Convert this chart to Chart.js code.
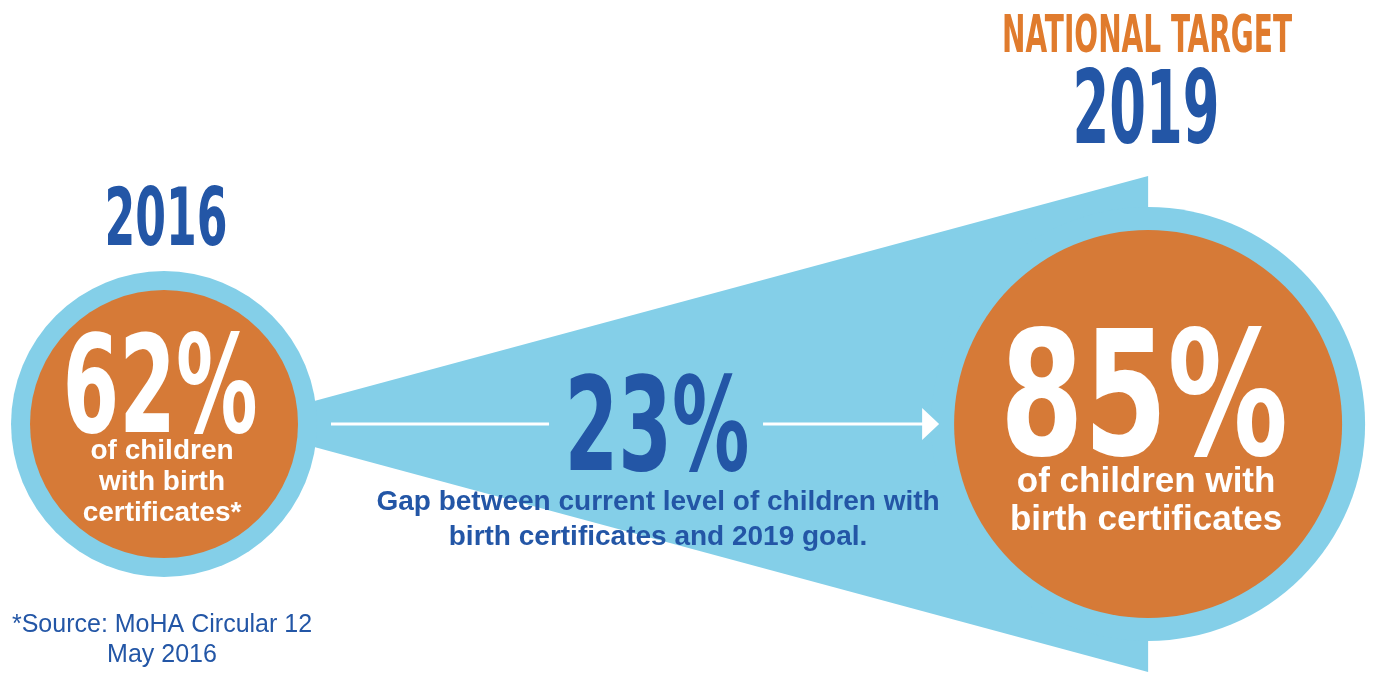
<!DOCTYPE html>
<html>
<head>
<meta charset="utf-8">
<title>Children with birth certificates: 2016 vs 2019 target</title>
<script src="https://cdn.jsdelivr.net/npm/chart.js@4.4.1/dist/chart.umd.min.js"></script>
<style>
    html, body { margin: 0; padding: 0; background: #ffffff; }
    #wrap { position: relative; width: 1381px; height: 675px; }
</style>
</head>
<body>
<div id="wrap"><canvas id="gapChart"></canvas></div>
<script>
// Data
const years = [2016, 2019];
const headings = [['2016'], ['NATIONAL TARGET', '2019']];
const shares = [62, 85]; // % of children with birth certificates
const shareCaptions = [
    ['of children', 'with birth', 'certificates*'],
    ['of children with', 'birth certificates']
];
const gapCaption = ['Gap between current level of children with', 'birth certificates and 2019 goal.'];
const sourceNote = ['*Source: MoHA Circular 12', 'May 2016'];

// Colours
const skyBlue = '#84cfe8';
const orange = '#d67a37';
const navy = '#2356a6';
const titleOrange = '#e07b2d';

// Circle sizes (px)
const discRadius = [134, 194];
const ringWidth = [19, 23];

const displayFont = '"Liberation Sans Narrow", "DejaVu Sans Condensed", "Liberation Sans", sans-serif';
const bodyFont = '"Liberation Sans", Arial, sans-serif';

// Poster style text: sized by cap height, squeezed to a width
function fitText(ctx, text, cx, baseline, capHeight, width, color) {
    ctx.save();
    ctx.font = 'bold 100px ' + displayFont;
    const m = ctx.measureText(text);
    const size = 100 * capHeight / m.actualBoundingBoxAscent;
    ctx.font = 'bold ' + size + 'px ' + displayFont;
    const w = ctx.measureText(text).width;
    ctx.fillStyle = color;
    ctx.textAlign = 'left';
    ctx.textBaseline = 'alphabetic';
    ctx.translate(cx - width / 2, baseline);
    ctx.scale(width / w, 1);
    ctx.fillText(text, 0, 0);
    ctx.restore();
}

function textLines(ctx, lines, cx, baseline, size, lineHeight, color, weight) {
    ctx.save();
    ctx.font = weight + ' ' + size + 'px ' + bodyFont;
    ctx.fillStyle = color;
    ctx.textAlign = 'center';
    ctx.textBaseline = 'alphabetic';
    lines.forEach((line, i) => ctx.fillText(line, cx, baseline + i * lineHeight));
    ctx.restore();
}

// Blue cone joining the two years, behind the circles
const conePlugin = {
    id: 'cone',
    beforeDatasetsDraw(chart) {
        const [a, b] = chart.getDatasetMeta(0).data;
        const ctx = chart.ctx;
        ctx.save();
        ctx.fillStyle = skyBlue;
        ctx.beginPath();
        ctx.moveTo(a.x + 65, a.y);
        ctx.lineTo(b.x, b.y - 248);
        ctx.lineTo(b.x, b.y + 248);
        ctx.closePath();
        ctx.fill();
        ctx.restore();
    }
};

// Headings, values, captions and the gap arrow
const labelsPlugin = {
    id: 'labels',
    afterDatasetsDraw(chart) {
        const ctx = chart.ctx;
        const [left, right] = chart.getDatasetMeta(0).data;
        const mid = (left.x + right.x) / 2;

        fitText(ctx, headings[0][0], left.x + 2, 245, 60, 123, navy);
        fitText(ctx, headings[1][0], right.x - 1, 52, 39, 290, titleOrange);
        fitText(ctx, headings[1][1], right.x - 2, 143, 76, 147, navy);

        fitText(ctx, shares[0] + '%', left.x - 4, left.y + 8, 102, 195, '#ffffff');
        textLines(ctx, shareCaptions[0], left.x - 2, left.y + 35, 28, 31, '#ffffff', 'bold');

        fitText(ctx, shares[1] + '%', right.x - 4, right.y + 31, 130, 288, '#ffffff');
        textLines(ctx, shareCaptions[1], right.x - 2, right.y + 68, 35, 38, '#ffffff', 'bold');

        // gap value and arrow
        const gap = shares[1] - shares[0];
        fitText(ctx, gap + '%', mid + 1, left.y + 46, 98, 185, navy);
        textLines(ctx, gapCaption, mid + 2, left.y + 86, 28, 35, navy, 'bold');

        ctx.save();
        ctx.strokeStyle = '#ffffff';
        ctx.fillStyle = '#ffffff';
        ctx.lineWidth = 3;
        ctx.beginPath();
        ctx.moveTo(left.x + 167, left.y);
        ctx.lineTo(mid - 107, left.y);
        ctx.moveTo(mid + 107, right.y);
        ctx.lineTo(right.x - 225, right.y);
        ctx.stroke();
        ctx.beginPath();
        ctx.moveTo(right.x - 226, right.y - 16);
        ctx.lineTo(right.x - 209, right.y);
        ctx.lineTo(right.x - 226, right.y + 16);
        ctx.closePath();
        ctx.fill();
        ctx.restore();

        textLines(ctx, sourceNote, left.x - 2, 632, 25, 30, navy, 'normal');
    }
};

const ctx = document.getElementById('gapChart').getContext('2d');
new Chart(ctx, {
    type: 'bubble',
    data: {
        datasets: [
            {
                label: 'Children with birth certificates (%)',
                data: years.map((year, i) => ({ x: year, y: 0, v: shares[i] })),
                backgroundColor: orange,
                borderWidth: 0,
                radius: c => discRadius[c.dataIndex],
                clip: false,
                order: 0
            },
            {
                label: 'ring',
                data: years.map((year, i) => ({ x: year, y: 0, v: shares[i] })),
                backgroundColor: skyBlue,
                borderWidth: 0,
                radius: c => discRadius[c.dataIndex] + ringWidth[c.dataIndex],
                clip: false,
                order: 1
            }
        ]
    },
    options: {
        responsive: true,
        maintainAspectRatio: false,
        animation: false,
        events: [],
        layout: {
            autoPadding: false,
            padding: { top: 173, left: 0, right: 0, bottom: 0 }
        },
        scales: {
            x: { type: 'linear', display: false, min: 2015.5, max: 2019.71 },
            y: { display: false, min: -1, max: 1 }
        },
        plugins: {
            legend: { display: false },
            tooltip: { enabled: false }
        }
    },
    plugins: [conePlugin, labelsPlugin]
});
</script>
</body>
</html>
